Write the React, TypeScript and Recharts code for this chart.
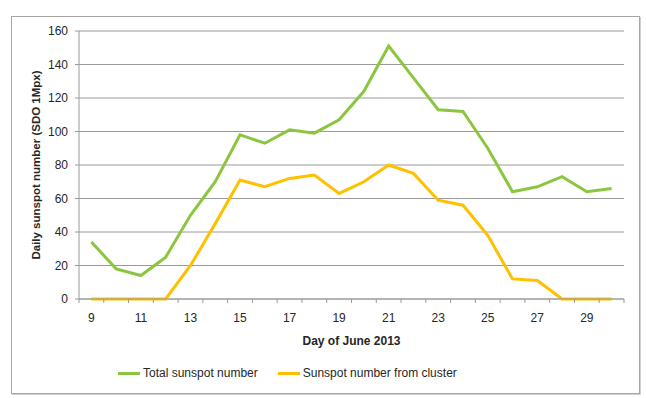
import React from "react";
import {
  LineChart,
  Line,
  XAxis,
  YAxis,
  CartesianGrid,
} from "recharts";

const days: number[] = [9, 10, 11, 12, 13, 14, 15, 16, 17, 18, 19, 20, 21, 22, 23, 24, 25, 26, 27, 28, 29, 30];
const totalSunspots: number[] = [34, 18, 14, 25, 50, 70, 98, 93, 101, 99, 107, 124, 151, 132, 113, 112, 90, 64, 67, 73, 64, 66];
const clusterSunspots: number[] = [0, 0, 0, 0, 20, 45, 71, 67, 72, 74, 63, 70, 80, 75, 59, 56, 38, 12, 11, 0, 0, 0];
const dayLabels: number[] = [9, 11, 13, 15, 17, 19, 21, 23, 25, 27, 29];
const yTicks: number[] = [0, 20, 40, 60, 80, 100, 120, 140, 160];

const series = [
  { key: "total", name: "Total sunspot number", color: "#8cc63f" },
  { key: "cluster", name: "Sunspot number from cluster", color: "#ffc000" },
];

const data = days.map((day, i) => ({
  day,
  total: totalSunspots[i],
  cluster: clusterSunspots[i],
}));

// tick marks sit between the days, like a category axis
const boundaries: number[] = [...days.map((d) => d - 0.5), days[days.length - 1] + 0.5];

const W = 646;
const H = 398;
const margin = { top: 31, right: 22, left: 0, bottom: 47 };
const yAxisWidth = 79;
const halfDay = (W - margin.left - margin.right - yAxisWidth) / days.length / 2;

const font = "'Liberation Sans', Arial, sans-serif";
const gridColor = "#9a9a9a";
const textColor = "#262626";

// label goes on the day to the right of the boundary tick
const DayTick = (props: any) => {
  const { x, y, payload } = props;
  const day = payload.value + 0.5;
  if (!dayLabels.includes(day)) return <g />;
  return (
    <text x={x + halfDay} y={y + 17} textAnchor="middle" fill={textColor} fontSize={12} fontFamily={font}>
      {day}
    </text>
  );
};

const App = () => {
  return (
    <div style={{ position: "absolute", left: 0, top: 0, width: W, height: H, background: "#fff", fontFamily: font }}>
      <div
        style={{
          position: "absolute",
          left: 11,
          top: 16,
          width: 627,
          height: 376,
          border: "1px solid #a6a6a6",
          boxShadow: "1px 1px 0 #d0d0d0",
        }}
      />
      <LineChart
        width={W}
        height={H}
        data={data}
        margin={margin}
        style={{ position: "absolute", left: 0, top: 0 }}
      >
        <CartesianGrid vertical={false} stroke={gridColor} />
        <XAxis
          dataKey="day"
          type="number"
          domain={[8.5, 30.5]}
          ticks={boundaries}
          interval={0}
          tick={<DayTick />}
          tickSize={4}
          tickMargin={2}
          height={52}
          axisLine={{ stroke: gridColor }}
          tickLine={{ stroke: gridColor }}
          label={{
            value: "Day of June 2013",
            position: "insideBottom",
            offset: 6,
            fill: textColor,
            fontSize: 12,
            fontWeight: "bold",
            fontFamily: font,
          }}
        />
        <YAxis
          domain={[0, 160]}
          ticks={yTicks}
          width={yAxisWidth}
          tickSize={4}
          tickMargin={7}
          axisLine={{ stroke: gridColor }}
          tickLine={{ stroke: gridColor }}
          tick={{ fill: textColor, fontSize: 12, fontFamily: font }}
          label={{
            value: "Daily sunspot number (SDO 1Mpx)",
            angle: -90,
            position: "center",
            dx: -4,
            fill: textColor,
            fontSize: 11.5,
            fontWeight: "bold",
            fontFamily: font,
          }}
        />
        {series.map((s) => (
          <Line
            key={s.key}
            dataKey={s.key}
            name={s.name}
            stroke={s.color}
            strokeWidth={3}
            dot={false}
            activeDot={false}
            isAnimationActive={false}
          />
        ))}
      </LineChart>
      <div
        style={{
          position: "absolute",
          left: 118,
          top: 366,
          display: "flex",
          alignItems: "center",
          fontSize: 12,
          color: textColor,
        }}
      >
        {series.map((s, i) => (
          <div key={s.key} style={{ display: "flex", alignItems: "center", marginRight: i === 0 ? 20 : 0 }}>
            <span style={{ display: "inline-block", width: 22, height: 3, background: s.color, marginRight: 3 }} />
            <span>{s.name}</span>
          </div>
        ))}
      </div>
    </div>
  );
};

export default App;
